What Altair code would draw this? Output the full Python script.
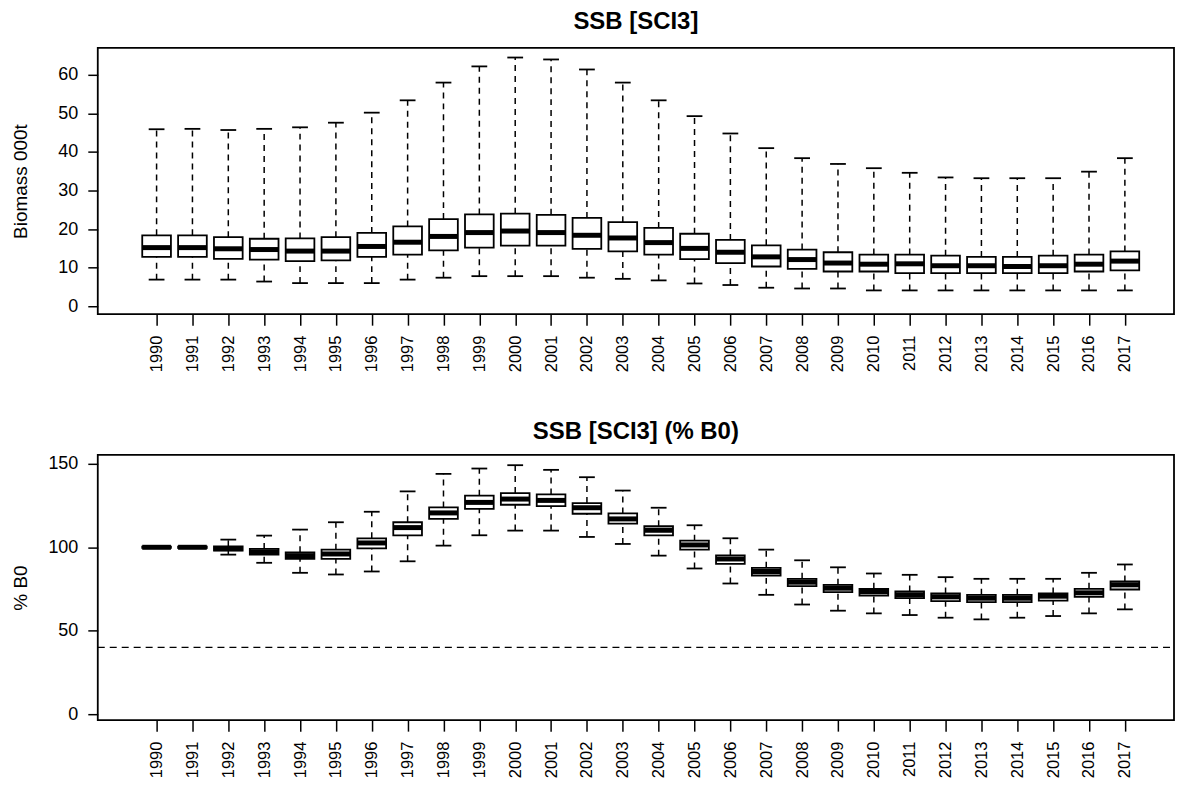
import altair as alt
import pandas as pd

years = list(range(1990, 2018))

# Top panel: SSB (000t) box statistics
ssb_lo = [6.9, 6.9, 6.9, 6.4, 6.0, 6.0, 6.0, 6.9, 7.4, 7.8, 7.8, 7.8, 7.4, 7.1,
          6.7, 5.9, 5.5, 4.8, 4.6, 4.6, 4.1, 4.1, 4.1, 4.1, 4.1, 4.1, 4.1, 4.1]
ssb_q1 = [12.8, 12.8, 12.3, 12.1, 11.7, 11.9, 12.8, 13.4, 14.5, 15.2, 15.7, 15.7, 14.9, 14.2,
          13.4, 12.2, 11.2, 10.3, 9.7, 9.0, 9.0, 8.6, 8.6, 8.6, 8.6, 8.6, 9.0, 9.3]
ssb_med = [15.2, 15.2, 14.9, 14.7, 14.3, 14.3, 15.5, 16.6, 18.1, 19.1, 19.5, 19.1, 18.4, 17.7,
           16.5, 15.0, 14.0, 12.8, 12.1, 11.2, 10.9, 11.0, 10.5, 10.5, 10.3, 10.5, 10.9, 11.7]
ssb_q3 = [18.4, 18.4, 17.9, 17.5, 17.6, 17.9, 19.0, 20.7, 22.6, 23.8, 24.0, 23.7, 22.9, 21.8,
          20.3, 18.8, 17.2, 15.8, 14.7, 14.0, 13.4, 13.4, 13.1, 12.8, 12.8, 13.1, 13.4, 14.2]
ssb_hi = [45.9, 46.0, 45.7, 46.0, 46.4, 47.6, 50.2, 53.4, 58.0, 62.2, 64.5, 64.0, 61.4, 58.0,
          53.4, 49.3, 44.8, 41.0, 38.4, 36.9, 35.8, 34.6, 33.4, 33.2, 33.2, 33.2, 34.9, 38.4]

# Bottom panel: SSB as % of B0
pct_lo = [100.0, 100.0, 95.6, 90.7, 84.7, 83.7, 85.5, 91.6, 101.0, 107.2, 110.0, 110.0, 106.2, 102.0,
          95.0, 87.3, 78.3, 71.5, 65.7, 62.0, 60.4, 59.4, 57.8, 56.8, 57.8, 58.8, 60.4, 62.8]
pct_q1 = [99.6, 99.6, 98.0, 95.6, 93.0, 93.0, 99.4, 107.2, 117.0, 123.0, 125.5, 124.7, 120.1, 114.2,
          107.2, 98.6, 90.1, 83.1, 76.7, 73.1, 71.1, 69.5, 67.7, 67.1, 67.1, 68.0, 70.3, 74.7]
pct_med = [100.0, 100.0, 99.2, 97.2, 95.0, 96.0, 102.6, 111.8, 120.6, 126.9, 128.9, 128.1, 123.7, 117.0,
           110.2, 101.4, 93.0, 85.5, 79.1, 75.5, 73.5, 71.5, 70.3, 69.5, 69.5, 70.7, 72.7, 77.5]
pct_q3 = [100.4, 100.4, 100.6, 99.0, 97.0, 98.6, 105.4, 115.0, 123.9, 130.9, 132.5, 131.7, 126.5, 120.3,
          112.6, 104.0, 95.2, 87.7, 81.1, 77.5, 75.1, 73.5, 72.3, 71.5, 71.5, 72.3, 75.1, 79.5]
pct_hi = [100.0, 100.0, 104.6, 107.0, 110.6, 115.0, 121.3, 133.5, 144.0, 147.2, 149.2, 146.4, 142.0, 134.0,
          123.7, 113.2, 105.4, 98.6, 92.2, 88.0, 84.3, 83.5, 82.1, 81.1, 81.1, 81.1, 84.7, 89.7]

ref_level = [40]

FONT = "Liberation Sans"
W = 1079
XDOM = [1988.36, 2018.37]


def panel(lo, q1, med, q3, hi, title, ytitle, ydom, yticks, height, toff, ref=None):
    df = pd.DataFrame({"year": years, "lo": lo, "q1": q1, "med": med, "q3": q3, "hi": hi})
    base = alt.Chart(df).transform_calculate(
        xl="datum.year - 0.4", xh="datum.year + 0.4",
        cl="datum.year - 0.22", ch="datum.year + 0.22",
    )
    xscale = alt.Scale(domain=XDOM, nice=False, zero=False)
    yscale = alt.Scale(domain=ydom, nice=False, zero=False)
    xaxis = alt.Axis(values=years, format="d", labelAngle=-90, labelOverlap=False,
                     labelFlush=False, tickSize=11, labelPadding=10, title=None,
                     labelFontSize=16.5, grid=False, domain=False)
    yaxis = alt.Axis(values=yticks, tickSize=10, labelPadding=10, labelFontSize=18,
                     title=ytitle, titleFontSize=19, titleFontWeight="normal",
                     titleX=-77, titleBaseline="middle", grid=False, domain=False)

    def X(f):
        return alt.X(f, type="quantitative", scale=xscale, axis=xaxis)

    def Y(f):
        return alt.Y(f, type="quantitative", scale=yscale, axis=yaxis)

    wu = base.mark_rule(color="black", strokeWidth=1.5, strokeDash=[6, 5]).encode(
        x=X("year"), y=Y("q3"), y2="hi")
    wl = base.mark_rule(color="black", strokeWidth=1.5, strokeDash=[6, 5]).encode(
        x=X("year"), y=Y("lo"), y2="q1")
    cu = base.mark_rule(color="black", strokeWidth=1.8).encode(
        x=X("cl"), x2="ch", y=Y("hi"))
    cl = base.mark_rule(color="black", strokeWidth=1.8).encode(
        x=X("cl"), x2="ch", y=Y("lo"))
    box = base.mark_rect(fill="white", stroke="black", strokeWidth=1.8).encode(
        x=X("xl"), x2="xh", y=Y("q1"), y2="q3")
    md = base.mark_rule(color="black", strokeWidth=5).encode(
        x=X("xl"), x2="xh", y=Y("med"))
    layers = [wu, wl, cu, cl, box, md]
    if ref is not None:
        rdf = pd.DataFrame({"ref": ref})
        rl = alt.Chart(rdf).mark_rule(color="black", strokeWidth=1.2, strokeDash=[7, 5]).encode(
            y=Y("ref"), x=alt.value(0), x2=alt.value(W))
        layers.append(rl)
    return alt.layer(*layers).properties(
        width=W, height=height,
        title=alt.TitleParams(title, fontSize=24, fontWeight="bold", font=FONT,
                              anchor="middle", frame="group", offset=toff),
    )


top = panel(ssb_lo, ssb_q1, ssb_med, ssb_q3, ssb_hi, "SSB [SCI3]", "Biomass 000t",
            [-2.07, 67.0], [0, 10, 20, 30, 40, 50, 60], 267, 14)
bottom = panel(pct_lo, pct_q1, pct_med, pct_q3, pct_hi, "SSB [SCI3] (% B0)", "% B0",
               [-3.6, 155.4], [0, 50, 100, 150], 266, 11, ref=ref_level)

chart = alt.vconcat(top, bottom, spacing=46).properties(
    padding={"left": 3, "top": 0, "right": 0, "bottom": 0},
    background="white",
).configure_view(
    stroke="black", strokeWidth=1.8
).configure_axis(
    labelFont=FONT, titleFont=FONT, labelColor="black", titleColor="black",
    tickColor="black", tickWidth=1.5
)

chart.save("out.html", embed_options={"renderer": "svg", "actions": False})
